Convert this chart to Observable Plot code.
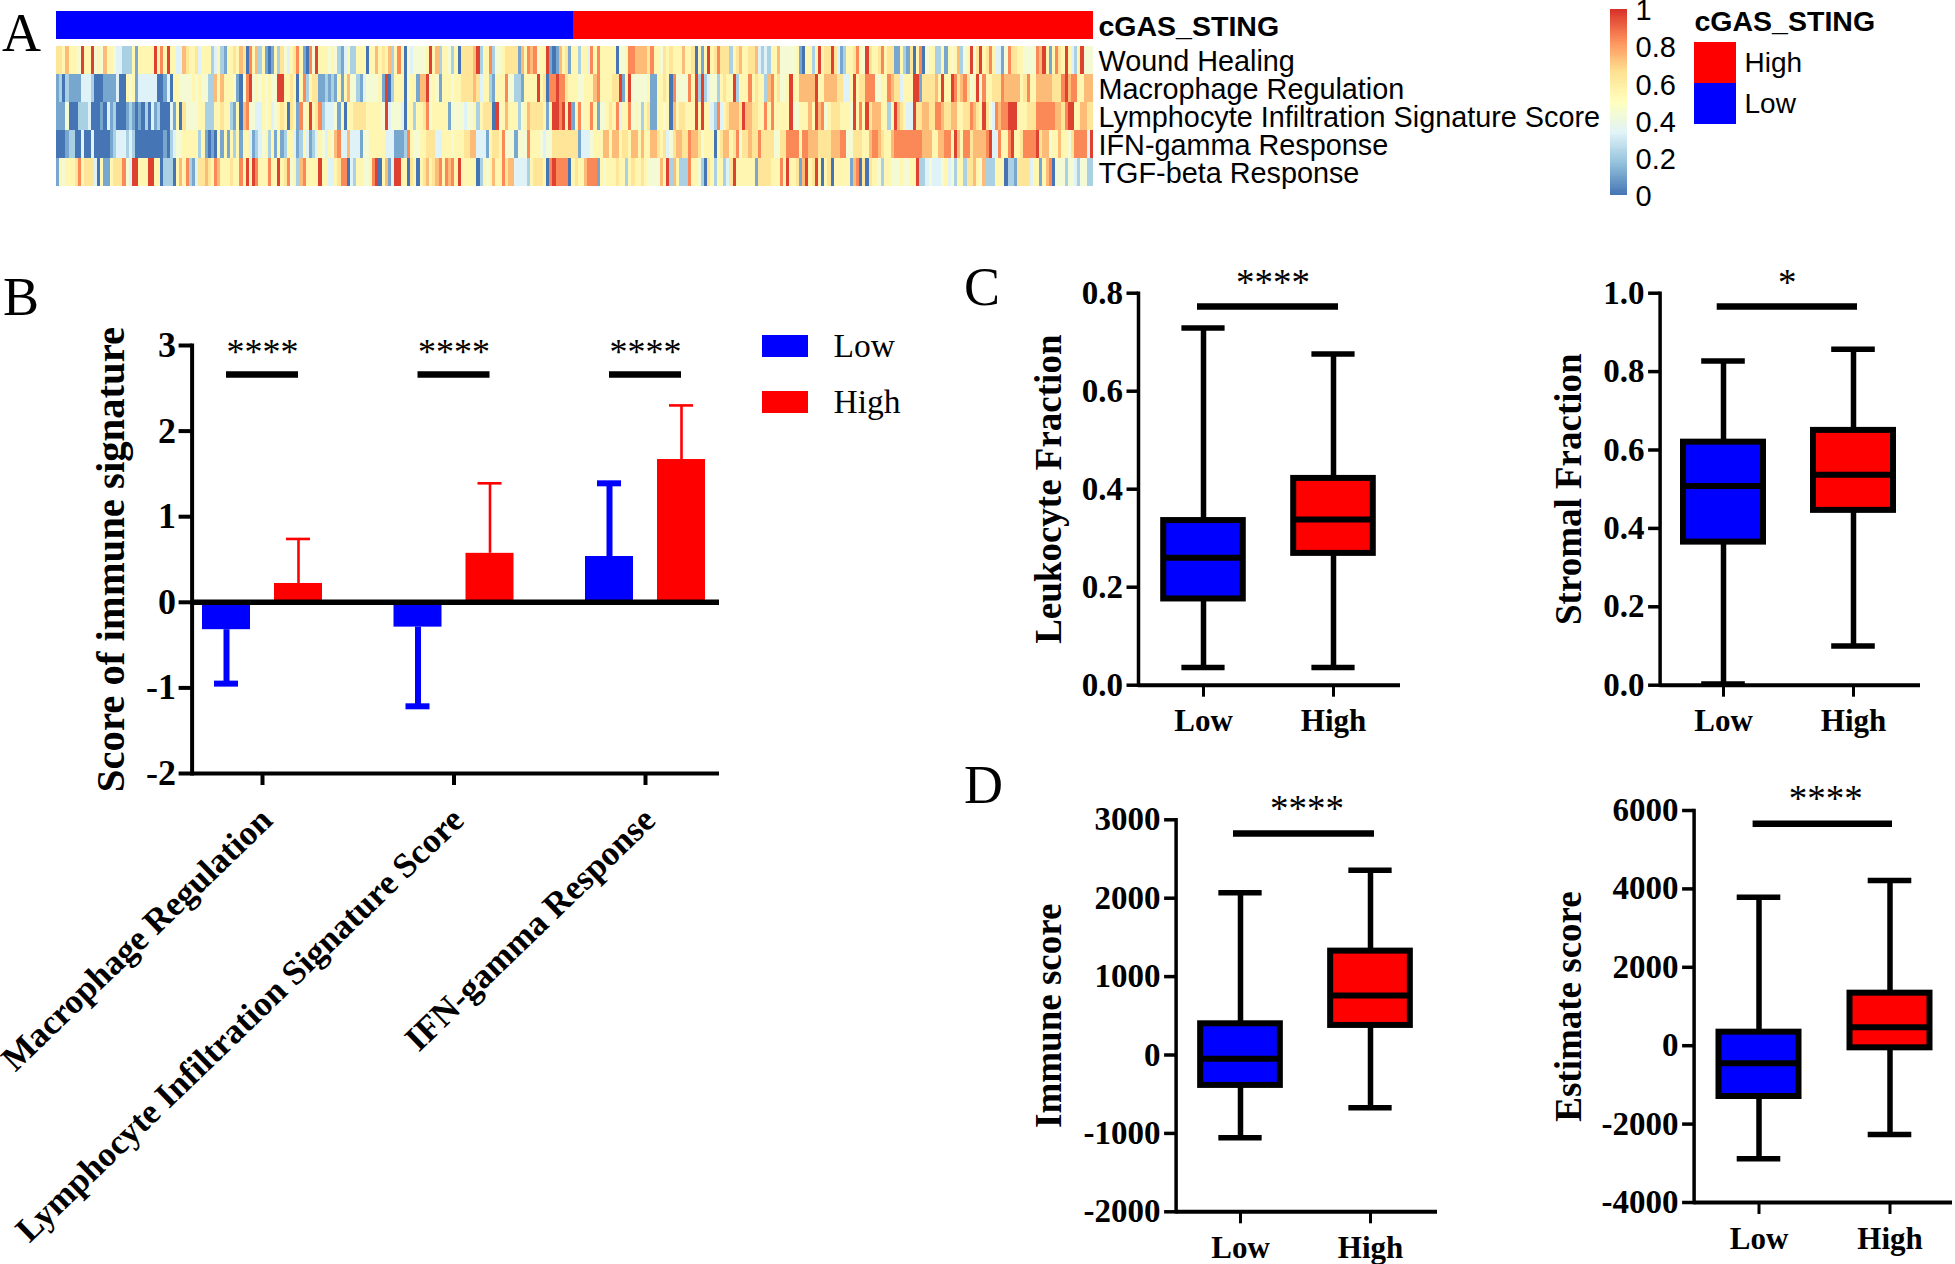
<!DOCTYPE html>
<html>
<head>
<meta charset="utf-8">
<script src="https://cdn.jsdelivr.net/npm/d3@7"></script>
<script src="https://cdn.jsdelivr.net/npm/@observablehq/plot@0.6"></script>
<style>
html,body{margin:0;padding:0;background:#fff}
#page{position:relative;width:1955px;height:1264px;overflow:hidden}
#page>svg{position:absolute;overflow:visible;max-width:none}
.letter{position:absolute;font:54px/1 "Liberation Serif",serif;color:#000}
</style>
</head>
<body>
<div id="page"></div>
<script>
// ---------- data ----------
const heatRowNames = ["Wound Healing","Macrophage Regulation","Lymphocyte Infiltration Signature Score","IFN-gamma Response","TGF-beta Response"];
// one digit per patient column; digitScores gives each digit's score on the 0-1 colour bar
const digitScores = [0,0.11,0.22,0.33,0.44,0.55,0.64,0.74,0.84,0.97];
const woundHealing = [
"6657555495","5945475543","3222515555","5958595533","7655635552","3521556576","0857251015","2643568510","8495554542","135",
"2255505575","6572585043","4444595725","5425066667","9255824456","6661758784","5591017561","5525538585","5555044588","77776",
"8554656555","7556051595","6866625675","5667323255","7444445105","5259566963","1255685496","5568566115","2160580455","22515",
"4572459469","5685331486","6554444879","5158659532","59444"];
const macrophageRegulation = [
"1202111133","3200011113","0054513333","3300130554","4445454422","7575554104","8945454544","9955650582","5661121215","157",
"4421344445","1902555045","5177945415","5545566667","6355215558","4422155559","5608898865","5544555785","5556691594","44445",
"1155650844","4485929234","4256559255","5856552785","6445955777","7795577776","6335956688","8445587663","5559916666","75955",
"9867864594","8556668777","7756855777","7766689788","55777"];
const lymphocyteScore = [
"1114000222","3000103120","0012101020","3120003150","6444455222","5565521507","8443354534","5650651845","9568233341","505",
"5666655555","4934443055","2556845555","5144443445","2566609457","5552457666","6515998959","1584558514","4565835584","54256",
"1155450756","6555959553","2835677769","7766558585","5555944555","7597845666","5554958596","7775525976","5339667766","88766",
"7755668765","9643878899","9555666888","8887768995","57766"];
const ifnGamma = [
"0001220030","0300000123","3323200000","0000102344","5555525101","0515152515","5312345251","5125531253","1235435478","337",
"3331445555","5333111285","4455666335","5545556677","3331566584","4414448555","4344666666","6613334555","7757756657","75755",
"7765634677","6687764555","0567756846","6766866664","4668888588","7776666777","8844666557","8876557888","8888887775","57788",
"5975886777","7893385589","5568888967","7455755468","88839"];
const tgfBeta = [
"1545556856","6630511566","6843995559","9550222057","5821366765","8755565585","9598555855","9568452785","5559553356","880",
"3255445890","5713995506","5056756785","8785955555","0254575586","7733332566","6508988880","5655788815","4555655256","55654",
"4447592752","2285542065","2552369555","5551666655","5859556179","5695056055","5551780606","5542554445","4455922343","33453",
"4255266754","7222555022","1666635515","7804442443","24422"];
const annotationGroups = ["Low","High"];
const lowColumnShare = 0.4986;

const colorbarTicks = [0,0.2,0.4,0.6,0.8,1];
const heatPalette = ["#4575B4","#91BFDB","#E0F3F8","#FFFFBF","#FEE090","#FC8D59","#D73027"];

const signatures = ["Macrophage Regulation","Lymphocyte Infiltration Signature Score","IFN-gamma Response"];
const lowMeans  = [-0.32,-0.29,0.535];
const highMeans = [0.22,0.572,1.668];
const lowErrorEnds  = [-0.95,-1.215,1.39];
const highErrorEnds = [0.74,1.39,2.30];
const immuneTicks = [-2,-1,0,1,2,3];
const immuneSigY = 2.66;
const immuneStarY = 2.92;

const boxGroups = ["Low","High"];
// each: lower whisker, q1, median, q3, upper whisker
const leukocyteLow  = [0.036,0.176,0.26,0.336,0.729];
const leukocyteHigh = [0.036,0.269,0.338,0.422,0.676];
const stromalLow    = [0.003,0.365,0.508,0.62,0.827];
const stromalHigh   = [0.10,0.446,0.537,0.65,0.857];
const immuneLow     = [-1056,-388,-48,398,2069];
const immuneHigh    = [-673,377,760,1325,2358];
const estimateLow   = [-2887,-1296,-446,345,3790];
const estimateHigh  = [-2265,-54,473,1340,4214];

// ---------- styles ----------
const SERIF = "'Liberation Serif','Times New Roman',serif";
const SANS = "'Liberation Sans',Arial,sans-serif";
const BLUE = "#0000ff", RED = "#ff0000";
const page = document.getElementById("page");
function place(svg,left,top){svg.style.left=left+"px";svg.style.top=top+"px";page.appendChild(svg);}
function baseStyle(font,size,weight){return {fontFamily:font,fontSize:size+"px",fontWeight:weight,background:"transparent",color:"#000",overflow:"visible"};}
function letter(t,x,baseline){const d=document.createElement("div");d.className="letter";d.textContent=t;d.style.left=x+"px";d.style.top=(baseline-45)+"px";page.appendChild(d);}
letter("A",2,51);letter("B",3,315);letter("C",964,305);letter("D",964,803);

// ---------- panel A ----------
const heatRows=[woundHealing,macrophageRegulation,lymphocyteScore,ifnGamma,tgfBeta];
const cells=[];
heatRows.forEach((groups,r)=>{
  const digits=groups.join("").split("").map(Number);
  digits.forEach((d,i)=>cells.push({row:heatRowNames[r],x1:i/digits.length,x2:(i+1)/digits.length,v:digitScores[d]}));
});
const heatDomain=heatPalette.map((_,i)=>i/(heatPalette.length-1));
const colorOpt={type:"linear",domain:heatDomain,range:heatPalette,clamp:true};

const annot=[{g:"Low",x1:0,x2:lowColumnShare},{g:"High",x1:lowColumnShare,x2:1}];
place(Plot.plot({
  width:1290,height:39,marginLeft:56,marginRight:197,marginTop:11,marginBottom:0,
  style:baseStyle(SANS,28.5,"bold"),
  x:{domain:[0,1],axis:null},
  y:{domain:["cGAS_STING"],padding:0,label:null},
  color:{domain:annotationGroups,range:[BLUE,RED]},
  marks:[
    Plot.barX(annot,{x1:"x1",x2:"x2",y:()=>"cGAS_STING",fill:"g",shapeRendering:"crispEdges"}),
    Plot.axisY({anchor:"right",tickSize:0,tickPadding:5,dy:1,label:null})
  ]
}),0,0);

const heatSvg=Plot.plot({
  width:1290,height:187,marginLeft:56,marginRight:197,marginTop:44,marginBottom:0,
  style:baseStyle(SANS,28.8,"normal"),
  x:{domain:[0,1],axis:null},
  y:{domain:heatRowNames,padding:0,label:null},
  color:colorOpt,
  marks:[
    Plot.barX(cells,{x1:"x1",x2:"x2",y:"row",fill:"v",shapeRendering:"crispEdges"}),
    Plot.axisY({anchor:"right",tickSize:0,tickPadding:5,dy:1,label:null})
  ]
});
d3.select(heatSvg).select('g[aria-label="bar"]').style("filter","blur(0.7px)");
place(heatSvg,0,0);

// colour bar
place(Plot.plot({
  width:85,height:220,marginLeft:10,marginRight:58,marginTop:9,marginBottom:25,
  style:baseStyle(SANS,29,"normal"),
  x:{axis:null},
  y:{domain:[0,1],label:null},
  color:colorOpt,
  marks:[
    Plot.rect(d3.range(100),{y1:d=>d/100,y2:d=>(d+1)/100,fill:d=>(d+0.5)/100,shapeRendering:"crispEdges"}),
    Plot.axisY({anchor:"right",ticks:colorbarTicks,tickFormat:d=>String(d),tickSize:0,tickPadding:8,dy:1.5,label:null})
  ]
}),1600,0);

// annotation legend
place(Plot.plot({
  width:260,height:140,marginLeft:14,marginRight:204,marginTop:41,marginBottom:16,
  style:baseStyle(SANS,28,"normal"),
  x:{axis:null},
  y:{domain:["High","Low"],padding:0,label:null},
  color:{domain:annotationGroups,range:[BLUE,RED]},
  marks:[
    Plot.cell(["High","Low"],{y:d=>d,fill:d=>d}),
    Plot.axisY({anchor:"right",tickSize:0,tickPadding:8,label:null}),
    Plot.text(["cGAS_STING"],{frameAnchor:"top-left",dy:-31,fontWeight:"bold",fontSize:28.5,textAnchor:"start"})
  ]
}),1680,0);

// ---------- panel B ----------
const B={left:0,top:300,axis:191.6,right:719,yTop:345,yBot:773};
const bUnit=191.5, bZero=262;
const dodge=36/bUnit, halfBar=24/bUnit, halfCap=12/bUnit;
const bRows=[];
signatures.forEach((s,i)=>{
  bRows.push({i,g:"Low",c:i-dodge,mean:lowMeans[i],end:lowErrorEnds[i],w:6});
  bRows.push({i,g:"High",c:i+dodge,mean:highMeans[i],end:highErrorEnds[i],w:2.6});
});
const bDom=[(B.axis-bZero)/bUnit,(B.right-bZero)/bUnit];
place(Plot.plot({
  width:B.right+5,height:1264-B.top,marginLeft:B.axis,marginRight:5,marginTop:B.yTop-B.top,marginBottom:1264-B.yBot,
  style:baseStyle(SERIF,36,"bold"),
  x:{domain:bDom,label:null},
  y:{domain:[-2,3],label:null},
  color:{domain:["Low","High"],range:[BLUE,RED]},
  marks:[
    Plot.ruleX(bRows,{x:"c",y1:"mean",y2:"end",stroke:"g",strokeWidth:"w"}),
    Plot.ruleY(bRows,{y:"end",x1:d=>d.c-halfCap,x2:d=>d.c+halfCap,stroke:"g",strokeWidth:"w"}),
    Plot.rectY(bRows,{x1:d=>d.c-halfBar,x2:d=>d.c+halfBar,y1:()=>0,y2:"mean",fill:"g"}),
    Plot.ruleY([0],{stroke:"#000",strokeWidth:5.5}),
    Plot.ruleY([-2],{stroke:"#000",strokeWidth:4}),
    Plot.frame({anchor:"left",stroke:"#000",strokeWidth:4}),
    Plot.ruleY(signatures.map((s,i)=>i),{y:()=>immuneSigY,x1:i=>i-dodge,x2:i=>i+dodge,stroke:"#000",strokeWidth:6.5}),
    Plot.text(signatures.map((s,i)=>i),{x:i=>i,y:()=>immuneStarY,text:()=>"****",fontSize:36,fontWeight:"normal"}),
    Plot.axisY({ticks:immuneTicks,tickFormat:d=>String(d),tickSize:13,strokeWidth:4,tickPadding:3,label:null}),
    Plot.axisX({ticks:[0,1,2],tickFormat:()=>"",tickSize:12,strokeWidth:4,label:null}),
    Plot.axisX({ticks:[0,1,2],tickFormat:i=>signatures[i],tickSize:0,tickRotate:-44,tickPadding:41,dx:4,fontSize:35,label:null}),
    Plot.text(["Score of immune signature"],{frameAnchor:"left",textAnchor:"middle",rotate:-90,dx:110-B.axis,fontSize:40.7})
  ]
}),B.left,B.top);

// B legend
place(Plot.plot({
  width:150,height:100,marginLeft:12,marginRight:92,marginTop:4,marginBottom:17,
  style:baseStyle(SERIF,33.5,"normal"),
  x:{axis:null},
  y:{domain:["Low","High"],paddingInner:0.614,paddingOuter:0,label:null},
  color:{domain:["Low","High"],range:[BLUE,RED]},
  marks:[
    Plot.cell(["Low","High"],{y:d=>d,fill:d=>d}),
    Plot.axisY({anchor:"right",tickSize:0,tickPadding:25,label:null})
  ]
}),750,330);

// ---------- panels C and D ----------
function boxPanel(o){
  const left=o.left, top=o.top, bottom=o.bottom;
  const rows=boxGroups.map((g,i)=>{
    const v=i?o.high:o.low;
    return {g,lo:v[0],q1:v[1],med:v[2],q3:v[3],hi:v[4]};
  });
  const step=(o.highX-o.lowX);
  const rangeA=o.lowX-step/2-left, rangeB=o.highX+step/2-left;
  const boxIn=(step-80)/2, capIn=(step-43.6)/2;
  place(Plot.plot({
    width:o.right-left+3,height:bottom-top,
    marginLeft:o.axis-left,marginRight:3,marginTop:o.yTop-top,marginBottom:bottom-o.yBot,
    style:baseStyle(SERIF,33,"bold"),
    x:{type:"band",domain:boxGroups,padding:0,range:[rangeA,rangeB],label:null},
    y:{domain:o.domain,label:null},
    color:{domain:boxGroups,range:[BLUE,RED]},
    marks:[
      Plot.ruleX(rows,{x:"g",y1:"lo",y2:"hi",stroke:"#000",strokeWidth:5.5}),
      Plot.tickY(rows,{x:"g",y:"lo",insetLeft:capIn,insetRight:capIn,stroke:"#000",strokeWidth:5.5}),
      Plot.tickY(rows,{x:"g",y:"hi",insetLeft:capIn,insetRight:capIn,stroke:"#000",strokeWidth:5.5}),
      Plot.barY(rows,{x:"g",y1:"q1",y2:"q3",fill:"g",stroke:"#000",strokeWidth:6,insetLeft:boxIn,insetRight:boxIn}),
      Plot.tickY(rows,{x:"g",y:"med",insetLeft:boxIn,insetRight:boxIn,stroke:"#000",strokeWidth:6}),
      Plot.ruleY([o.domain[0]],{stroke:"#000",strokeWidth:4}),
      Plot.frame({anchor:"left",stroke:"#000",strokeWidth:3.5}),
      Plot.ruleY([o.sigY],{insetLeft:o.sig1-o.axis,insetRight:o.right-o.sig2,stroke:"#000",strokeWidth:6.5}),
      Plot.text([o.stars],{y:()=>o.starY,text:d=>d,dx:(o.sig1+o.sig2)/2-(o.axis+o.right)/2+o.starDx,fontSize:37,fontWeight:"normal"}),
      Plot.axisY({ticks:o.ticks,tickFormat:o.fmt,tickSize:11.5,strokeWidth:3.5,tickPadding:4,label:null}),
      Plot.axisX({tickSize:12,strokeWidth:3,tickPadding:12,fontSize:31,label:null}),
      Plot.text([o.label],{frameAnchor:"left",textAnchor:"middle",rotate:-90,dx:o.labelX-o.axis,fontSize:37})
    ]
  }),left,top);
}
const f1=d=>d3.format(".1f")(d), f0=d=>String(d);
boxPanel({left:1020,top:250,bottom:745,axis:1138,right:1400,yTop:292.7,yBot:684.7,lowX:1202.6,highX:1333,
  domain:[0,0.8],ticks:[0,0.2,0.4,0.6,0.8],fmt:f1,low:leukocyteLow,high:leukocyteHigh,sigY:0.773,starY:0.82,stars:"****",starDx:5,sig1:1197,sig2:1338,label:"Leukocyte Fraction",labelX:1049});
boxPanel({left:1540,top:250,bottom:745,axis:1659.6,right:1920,yTop:292.7,yBot:684.7,lowX:1723,highX:1853,
  domain:[0,1],ticks:[0,0.2,0.4,0.6,0.8,1],fmt:f1,low:stromalLow,high:stromalHigh,sigY:0.966,starY:1.025,stars:"*",starDx:0,sig1:1716.7,sig2:1857,label:"Stromal Fraction",labelX:1568.6});
boxPanel({left:1020,top:770,bottom:1264,axis:1175.6,right:1437,yTop:819.3,yBot:1211.3,lowX:1239.7,highX:1370,
  domain:[-2000,3000],ticks:[-2000,-1000,0,1000,2000,3000],fmt:f0,low:immuneLow,high:immuneHigh,sigY:2826,starY:3131,stars:"****",starDx:3,sig1:1233,sig2:1374,label:"Immune score",labelX:1049});
boxPanel({left:1540,top:770,bottom:1264,axis:1693.6,right:1952,yTop:810,yBot:1202,lowX:1758,highX:1889,
  domain:[-4000,6000],ticks:[-4000,-2000,0,2000,4000,6000],fmt:f0,low:estimateLow,high:estimateHigh,sigY:5660,starY:6281,stars:"****",starDx:3,sig1:1752.6,sig2:1892,label:"Estimate score",labelX:1568.6});
</script>
</body>
</html>
